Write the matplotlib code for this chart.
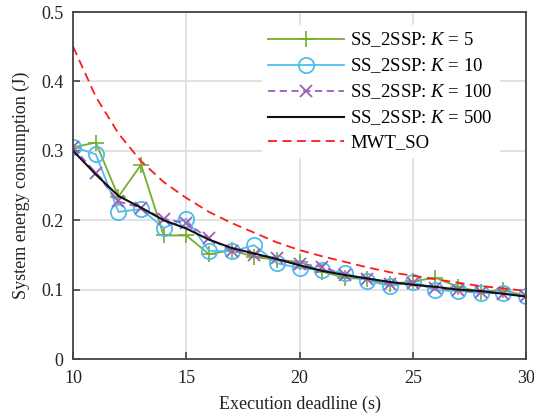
"""
System energy consumption vs. execution deadline for SS_2SSP with several K and MWT_SO.
"""

import matplotlib
matplotlib.use("Agg")
import matplotlib.pyplot as plt

plt.rcParams["font.family"] = ["Liberation Serif", "DejaVu Serif"]
plt.rcParams["mathtext.fontset"] = "custom"
plt.rcParams["mathtext.it"] = "Liberation Serif:italic"
plt.rcParams["mathtext.rm"] = "Liberation Serif"

deadline = list(range(10, 31))

k5 = [0.305, 0.312, 0.234, 0.280, 0.178, 0.178, 0.151, 0.157, 0.147, 0.143, 0.140,
      0.126, 0.117, 0.115, 0.108, 0.112, 0.117, 0.104, 0.097, 0.099, 0.091]
k10 = [0.306, 0.295, 0.212, 0.216, 0.189, 0.202, 0.156, 0.155, 0.164, 0.138, 0.131,
       0.128, 0.124, 0.113, 0.105, 0.111, 0.099, 0.098, 0.095, 0.095, 0.091]
k100 = [0.305, 0.268, 0.227, 0.218, 0.202, 0.196, 0.174, 0.156, 0.150, 0.145, 0.137,
        0.133, 0.121, 0.116, 0.108, 0.110, 0.102, 0.099, 0.096, 0.094, 0.091]
k500 = [0.300, 0.266, 0.235, 0.218, 0.200, 0.188, 0.172, 0.160, 0.152, 0.144, 0.135,
        0.127, 0.121, 0.116, 0.111, 0.107, 0.104, 0.100, 0.098, 0.094, 0.090]
mwt_so = [0.450, 0.378, 0.325, 0.285, 0.255, 0.232, 0.212, 0.196, 0.182, 0.168, 0.157,
          0.148, 0.140, 0.132, 0.125, 0.120, 0.115, 0.110, 0.105, 0.102, 0.098]

fig = plt.figure(figsize=(5.34, 4.16), dpi=100)
ax = fig.add_axes([0.137, 0.137, 0.848, 0.834])

ax.plot(deadline, k5, color="#77AC30", marker="+", markersize=11, mew=1.2, lw=1.3,
        label=r"SS_2SSP: $K$ = 5")
ax.plot(deadline, k10, color="#4DBEEE", marker="o", markersize=11, mfc="none", mew=1.3,
        lw=1.3, label=r"SS_2SSP: $K$ = 10")
ax.plot(deadline, k100, color="#A05CB8", marker="x", markersize=8, mew=1.3, lw=1.3,
        linestyle=(0, (4, 2.5)), label=r"SS_2SSP: $K$ = 100")
ax.plot(deadline, k500, color="#111111", lw=1.5, label=r"SS_2SSP: $K$ = 500")
ax.plot(deadline, mwt_so, color="#FF1A1A", lw=1.3, linestyle=(0, (5, 3)), label="MWT_SO")

ax.set_xlim(10, 30)
ax.set_ylim(0, 0.5)
ax.set_xticks([10, 15, 20, 25, 30])
ax.set_yticks([0, 0.1, 0.2, 0.3, 0.4, 0.5])
ax.set_yticklabels(["0", "0.1", "0.2", "0.3", "0.4", "0.5"])
ax.grid(True, color="#DDDDDD", lw=1.2)
ax.set_axisbelow(True)
for sp in ax.spines.values():
    sp.set_color("#444444")
    sp.set_linewidth(1.3)
ax.tick_params(direction="in", length=5, width=1.2, colors="#444444",
               labelcolor="#222222", labelsize=13)
ax.tick_params(axis="x", pad=8)
ax.tick_params(axis="y", pad=7)

ax.set_xlabel("Execution deadline (s)", fontsize=13, color="#222222", labelpad=6)
ax.set_ylabel("System energy consumption (J)", fontsize=13, color="#222222", labelpad=8)

leg = ax.legend(loc="upper left", bbox_to_anchor=(0.417, 0.962), fontsize=13.5,
                frameon=True, fancybox=False, edgecolor="white", framealpha=1,
                handlelength=4.1, handletextpad=0.32, borderpad=0.3,
                borderaxespad=0, labelspacing=0.38)

fig.savefig("out.png", dpi=100)
plt.close(fig)
